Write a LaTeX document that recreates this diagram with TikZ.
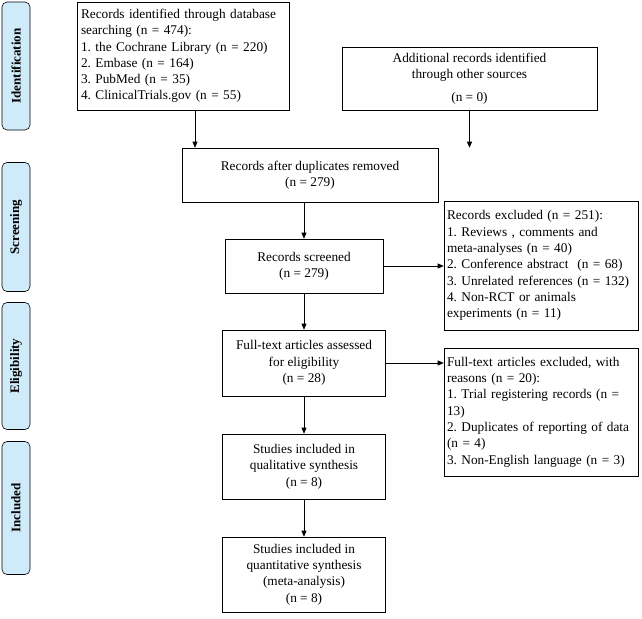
\documentclass[tikz,border=0pt]{standalone}
\usepackage{fontspec}
\setmainfont{Liberation Serif}
\usetikzlibrary{arrows.meta}
\definecolor{stagefill}{HTML}{CFEAF8}
\frenchspacing
\tikzset{
  box/.style={draw, semithick, align=left, inner sep=3pt, font=\fontsize{13.3}{16.3}\selectfont},
  cbox/.style={box, align=center},
  stage/.style={draw, semithick, rounded corners=5pt, fill=stagefill, rotate=90,
    font=\bfseries\fontsize{13}{15}\selectfont, minimum height=28pt},
  arr/.style={semithick, -{Triangle[length=6pt,width=5pt]}}
}
\begin{document}
\begin{tikzpicture}[x=1pt,y=-1pt]
\useasboundingbox (0,0) rectangle (642,618);

% stages
\node[stage, minimum width=128pt] (id) at (16,66) {Identification};
\node[stage, minimum width=129pt] (sc) at (16,227) {Screening};
\node[stage, minimum width=127pt] (el) at (16,366) {Eligibility};
\node[stage, minimum width=133pt] (in) at (16,508) {Included};

% boxes
\node[box, minimum width=212pt, minimum height=108pt, text width=204pt] (db) at (183,56) {Records identified through database\\searching (n = 474):\\1. the Cochrane Library (n = 220)\\2. Embase (n = 164)\\3. PubMed (n = 35)\\4. ClinicalTrials.gov (n = 55)};
\node[cbox, minimum width=255pt, minimum height=63pt] (other) at (469.5,78.5) {Additional records identified\\through other sources\\[6pt](n = 0)};
\node[cbox, minimum width=256pt, minimum height=54pt] (dup) at (310,175) {Records after duplicates removed\\(n = 279)};
\node[cbox, minimum width=158pt, minimum height=54pt] (scr) at (304,266) {Records screened\\(n = 279)};
\node[box, minimum width=194pt, minimum height=129pt, text width=188pt] (ex1) at (541,265.5) {Records excluded (n = 251):\\1. Reviews , comments and\\meta-analyses (n = 40)\\2. Conference abstract\ \ (n = 68)\\3. Unrelated references (n = 132)\\4. Non-RCT or animals\\experiments (n = 11)};
\node[cbox, minimum width=163pt, minimum height=66pt] (full) at (304,363) {Full-text articles assessed\\for eligibility\\(n = 28)};
\node[box, minimum width=194pt, minimum height=128pt, text width=188pt] (ex2) at (541,412) {Full-text articles excluded, with\\reasons (n = 20):\\1. Trial registering records (n =\\13)\\2. Duplicates of reporting of data\\(n = 4)\\3. Non-English language (n = 3)};
\node[cbox, minimum width=163pt, minimum height=65pt] (qual) at (304,466.5) {Studies included in\\qualitative synthesis\\(n = 8)};
\node[cbox, minimum width=163pt, minimum height=75pt] (quant) at (304,574.5) {Studies included in\\quantitative synthesis\\(meta-analysis)\\(n = 8)};

% connectors
\draw[arr] (db.south -| 195,0) -- (dup.north -| 195,0);
\draw[arr] (other.south) -- (dup.north -| other.south);
\draw[arr] (dup.south -| scr.north) -- (scr.north);
\draw[arr] (scr.east) -- (ex1.west |- scr.east);
\draw[arr] (scr) -- (full);
\draw[arr] (full.east) -- (ex2.west |- full.east);
\draw[arr] (full) -- (qual);
\draw[arr] (qual) -- (quant);
\end{tikzpicture}
\end{document}
